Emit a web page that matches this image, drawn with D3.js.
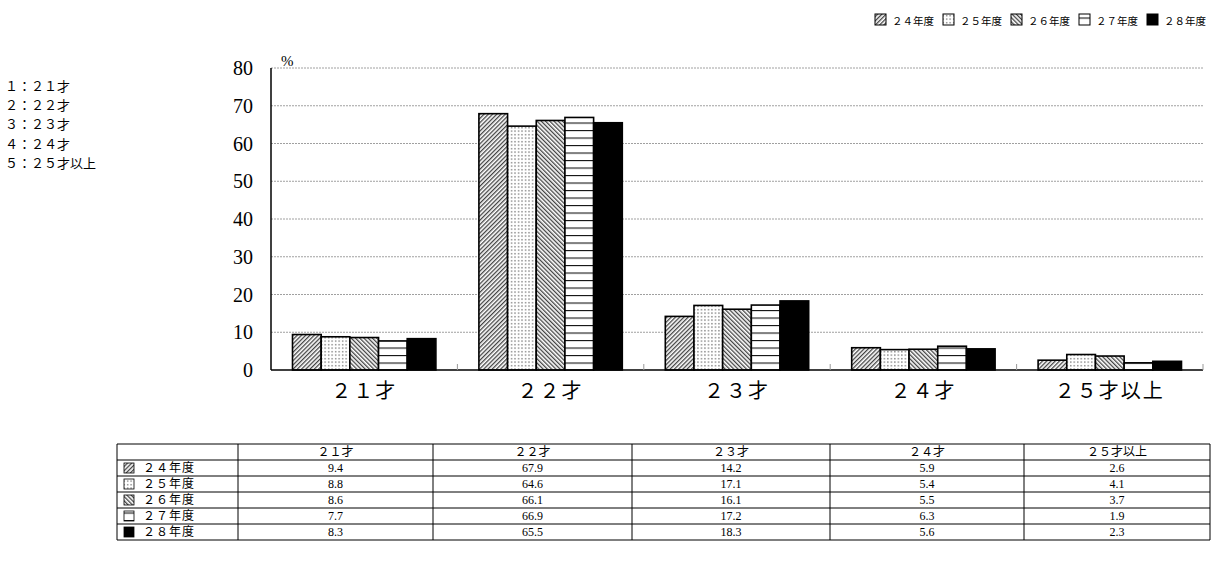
<!DOCTYPE html>
<meta charset="utf-8">
<script src="https://d3js.org/d3.v7.min.js"></script>
<style>
  body { margin: 0; background: #fff; }
  text { font-family: "Liberation Serif", "Noto Sans CJK JP", serif; }
</style>
<div id="my_dataviz"></div>
<script>

// data
var ages = ["２１才", "２２才", "２３才", "２４才", "２５才以上"];
var years = ["２４年度", "２５年度", "２６年度", "２７年度", "２８年度"];
var v24 = [9.4, 67.9, 14.2, 5.9, 2.6];
var v25 = [8.8, 64.6, 17.1, 5.4, 4.1];
var v26 = [8.6, 66.1, 16.1, 5.5, 3.7];
var v27 = [7.7, 66.9, 17.2, 6.3, 1.9];
var v28 = [8.3, 65.5, 18.3, 5.6, 2.3];
var yTicks = [0, 10, 20, 30, 40, 50, 60, 70, 80];
var keyLabels = ["１：２１才", "２：２２才", "３：２３才", "４：２４才", "５：２５才以上"];

var series = [v24, v25, v26, v27, v28];
var patId = ["p24", "p25", "p26", "p27", "p28"];

var svg = d3.select("#my_dataviz")
  .append("svg")
    .attr("width", 1214)
    .attr("height", 568);

// patterns
var defs = svg.append("defs");
var p = defs.append("pattern").attr("id", "p24").attr("patternUnits", "userSpaceOnUse")
  .attr("width", 3).attr("height", 3).attr("patternTransform", "rotate(45)");
p.append("rect").attr("width", 3).attr("height", 3).attr("fill", "#fff");
p.append("line").attr("x1", 0.7).attr("y1", 0).attr("x2", 0.7).attr("y2", 3).attr("stroke", "#222").attr("stroke-width", 1.1);

p = defs.append("pattern").attr("id", "p25").attr("patternUnits", "userSpaceOnUse")
  .attr("width", 3.5).attr("height", 3.5);
p.append("rect").attr("width", 3.5).attr("height", 3.5).attr("fill", "#fff");
p.append("rect").attr("x", 1).attr("y", 1).attr("width", 1.3).attr("height", 1.3).attr("fill", "#666");

p = defs.append("pattern").attr("id", "p26").attr("patternUnits", "userSpaceOnUse")
  .attr("width", 3).attr("height", 3).attr("patternTransform", "rotate(-45)");
p.append("rect").attr("width", 3).attr("height", 3).attr("fill", "#fff");
p.append("line").attr("x1", 0.7).attr("y1", 0).attr("x2", 0.7).attr("y2", 3).attr("stroke", "#222").attr("stroke-width", 1.1);

p = defs.append("pattern").attr("id", "p27").attr("patternUnits", "userSpaceOnUse")
  .attr("width", 8).attr("height", 7.5).attr("y", 370);
p.append("rect").attr("width", 8).attr("height", 7.5).attr("fill", "#fff");
p.append("line").attr("x1", 0).attr("y1", 0.5).attr("x2", 8).attr("y2", 0.5).attr("stroke", "#111").attr("stroke-width", 1.2);

p = defs.append("pattern").attr("id", "p28").attr("patternUnits", "userSpaceOnUse")
  .attr("width", 4).attr("height", 4);
p.append("rect").attr("width", 4).attr("height", 4).attr("fill", "#000");

// scales
var x0 = d3.scaleBand().domain(ages).range([271, 1203]);
var x1 = d3.scaleBand().domain(years).range([21.5, x0.bandwidth() - 21.5]);
var y = d3.scaleLinear().domain([0, 80]).range([370, 68]);

// grid
svg.append("g").selectAll("line")
  .data(yTicks.filter(function(d){ return d > 0; }))
  .enter().append("line")
    .attr("x1", 271).attr("x2", 1203)
    .attr("y1", function(d){ return y(d); }).attr("y2", function(d){ return y(d); })
    .attr("stroke", "#a0a0a0").attr("stroke-width", 1).attr("stroke-dasharray", "2,1");

// y labels
svg.append("g").selectAll("text")
  .data(yTicks).enter().append("text")
    .attr("x", 253).attr("y", function(d){ return y(d) + 7; })
    .attr("text-anchor", "end").attr("font-size", 20)
    .text(function(d){ return d; });

svg.append("text").attr("x", 281).attr("y", 66).attr("font-size", 15).text("%");

// bars
var groups = svg.append("g").selectAll("g")
  .data(ages).enter().append("g")
    .attr("transform", function(d){ return "translate(" + x0(d) + ",0)"; });

groups.selectAll("rect")
  .data(function(d, i){ return years.map(function(yr, k){ return {k: k, v: series[k][i]}; }); })
  .enter().append("rect")
    .attr("x", function(d){ return x1(years[d.k]); })
    .attr("width", x1.bandwidth())
    .attr("y", function(d){ return y(d.v); })
    .attr("height", function(d){ return y(0) - y(d.v); })
    .attr("fill", function(d){ return "url(#" + patId[d.k] + ")"; })
    .attr("stroke", "#000").attr("stroke-width", 1.6);

// axes lines
svg.append("line").attr("x1", 271).attr("x2", 271).attr("y1", 68).attr("y2", 370).attr("stroke", "#000").attr("stroke-width", 1.5);
svg.append("line").attr("x1", 271).attr("x2", 1203).attr("y1", 370).attr("y2", 370).attr("stroke", "#000").attr("stroke-width", 1.5);

// category ticks
svg.append("g").selectAll("line")
  .data(ages).enter().append("line")
    .attr("x1", function(d){ return x0(d) + x0.step(); })
    .attr("x2", function(d){ return x0(d) + x0.step(); })
    .attr("y1", 364).attr("y2", 370)
    .attr("stroke", "#999");

// category labels
svg.append("g").selectAll("text")
  .data(ages).enter().append("text")
    .attr("x", function(d){ return x0(d) + x0.bandwidth() / 2; })
    .attr("y", 398).attr("text-anchor", "middle").attr("font-size", 20)
    .attr("letter-spacing", 2)
    .text(function(d){ return d; });

// left key
svg.append("g").selectAll("text")
  .data(keyLabels).enter().append("text")
    .attr("x", 5).attr("y", function(d, i){ return 91 + i * 19.2; })
    .attr("font-size", 13)
    .text(function(d){ return d; });

// top legend, right aligned
var legend = svg.append("g");
var lx = 1206;
for (var k = years.length - 1; k >= 0; k--) {
  var t = legend.append("text").attr("y", 25).attr("font-size", 10.5).text(years[k]);
  var w = t.node().getComputedTextLength();
  lx -= w;
  t.attr("x", lx);
  lx -= 17;
  legend.append("rect").attr("x", lx).attr("y", 14)
    .attr("width", 11).attr("height", 11)
    .attr("fill", "url(#" + patId[k] + ")")
    .attr("stroke", "#000").attr("stroke-width", 1);
  lx -= 9;
}

// data table
var colX = [117, 238, 433, 632, 830, 1024, 1210];
var rowY = [444, 460, 476, 492, 508, 524, 540];
var tbl = svg.append("g");
tbl.selectAll("line.h").data(rowY).enter().append("line")
  .attr("x1", colX[0]).attr("x2", colX[6])
  .attr("y1", function(d){ return d; }).attr("y2", function(d){ return d; })
  .attr("stroke", "#000").attr("stroke-width", 1);
tbl.selectAll("line.v").data(colX).enter().append("line")
  .attr("x1", function(d){ return d; }).attr("x2", function(d){ return d; })
  .attr("y1", rowY[0]).attr("y2", rowY[6])
  .attr("stroke", "#000").attr("stroke-width", 1);

tbl.selectAll("text.hd").data(ages).enter().append("text")
  .attr("x", function(d, i){ return (colX[i + 1] + colX[i + 2]) / 2; })
  .attr("y", rowY[0] + 12).attr("text-anchor", "middle").attr("font-size", 12)
  .text(function(d){ return d; });

years.forEach(function(yr, k){
  var ry = rowY[k + 1];
  tbl.append("rect").attr("x", 124).attr("y", ry + 3).attr("width", 10).attr("height", 10)
    .attr("fill", "url(#" + patId[k] + ")").attr("stroke", "#000").attr("stroke-width", 0.8);
  tbl.append("text").attr("x", 143).attr("y", ry + 12).attr("font-size", 12)
    .attr("letter-spacing", 1).text(yr);
  tbl.selectAll(null).data(series[k]).enter().append("text")
    .attr("x", function(d, i){ return (colX[i + 1] + colX[i + 2]) / 2; })
    .attr("y", ry + 12).attr("text-anchor", "middle").attr("font-size", 12)
    .text(function(d){ return d.toFixed(1); });
});

</script>
